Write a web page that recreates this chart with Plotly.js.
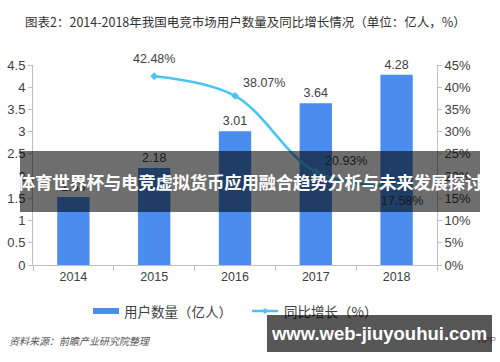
<!DOCTYPE html>
<html><head><meta charset="utf-8">
<script src="https://cdn.plot.ly/plotly-3.0.1.min.js"></script>
<style>
html,body{margin:0;padding:0;background:#fff;}
#wrap{position:relative;width:500px;height:362px;overflow:hidden;}
#chart{width:500px;height:362px;}
.ov{position:absolute;color:#fff;font-weight:bold;display:flex;align-items:center;justify-content:center;white-space:nowrap;}
</style></head>
<body><div id="wrap"><div id="chart"></div>
<div class="ov" style="left:20px;top:151px;width:460px;height:61px;font-size:17.5px;letter-spacing:-0.3px;background:rgba(0,0,0,0.57);font-family:'Noto Sans CJK SC','Noto Sans',sans-serif;">体育世界杯与电竞虚拟货币应用融合趋势分析与未来发展探讨</div>
<div class="ov" style="left:267px;top:315px;width:225px;height:37px;font-size:18.5px;font-family:'Liberation Sans',Arial,sans-serif;background:rgba(0,0,0,0.66);">www.web-jiuyouhui.com</div>
</div>
<script>
const years = ['2014','2015','2016','2017','2018'];
const users = [1.53, 2.18, 3.01, 3.64, 4.28];
const growthYears = ['2015','2016','2017','2018'];
const growth = [42.48, 38.07, 20.93, 17.58];
const growthLabels = ['42.48%','38.07%','20.93%','17.58%'];
const seriesNames = ['用户数量（亿人）','同比增长（%）'];
const labelShift = [[0,17],[29,13],[30,11],[5,-14]];

const barColor = '#4a8def', lineColor = '#48c5f3';
const xIdx = years.map((_,i)=>i);
const gIdx = growthYears.map(y=>years.indexOf(y));
const font = 'Liberation Sans, Noto Sans CJK SC, sans-serif';
const M = {l:33, r:63, t:65, b:97}, W = 500, H = 362;
const pw = W - M.l - M.r, ph = H - M.t - M.b;
const px = x => (x - M.l) / pw, py = y => (H - M.b - y) / ph;

const traces = [
  {type:'bar', x:xIdx, y:users, width:0.4, name:seriesNames[0], marker:{color:barColor},
   text:users.map(v=>v.toFixed(2)), textposition:'outside', cliponaxis:false,
   textfont:{size:12.5,color:'#404040',family:font}},
  {type:'scatter', mode:'lines+markers', x:gIdx, y:growth, yaxis:'y2', name:seriesNames[1],
   line:{color:lineColor, width:2.5, shape:'spline', smoothing:1},
   marker:{symbol:'diamond', size:6, color:lineColor}}
];
const annotations = gIdx.map((xi,i)=>({
  x:xi, y:growth[i], xref:'x', yref:'y2', text:growthLabels[i], showarrow:false,
  xshift:labelShift[i][0], yshift:labelShift[i][1], font:{size:12.5,color:'#404040',family:font}
}));
// legend texts
annotations.push({xref:'paper', yref:'paper', x:px(122), y:py(311), xanchor:'left', yanchor:'middle',
  text:seriesNames[0], showarrow:false, font:{size:13.5,color:'#404040',family:'Noto Sans CJK SC'}});
annotations.push({xref:'paper', yref:'paper', x:px(282), y:py(311), xanchor:'left', yanchor:'middle',
  text:seriesNames[1], showarrow:false, font:{size:13.5,color:'#404040',family:'Noto Sans CJK SC'}});
annotations.push({xref:'paper', yref:'paper', x:px(7), y:py(340), xanchor:'left', yanchor:'middle',
  text:'<i>资料来源：前瞻产业研究院整理</i>', showarrow:false, font:{size:10,color:'#555',family:'Noto Sans CJK SC'}});
annotations.push({xref:'paper', yref:'paper', x:px(498), y:py(340), xanchor:'right', yanchor:'middle',
  text:'APP', showarrow:false, font:{size:9,color:'#777',family:font}});

const shapes = [
  {type:'rect', xref:'paper', yref:'paper', x0:px(93), x1:px(119), y0:py(308), y1:py(314), fillcolor:barColor, line:{width:0}},
  {type:'line', xref:'paper', yref:'paper', x0:px(252), x1:px(278), y0:py(311), y1:py(311), line:{color:lineColor, width:2.5}},
  {type:'path', xref:'paper', yref:'paper',
   path:`M ${px(265)} ${py(308)} L ${px(268)} ${py(311)} L ${px(265)} ${py(314)} L ${px(262)} ${py(311)} Z`,
   fillcolor:lineColor, line:{width:0}}
];

const bounds = years.concat(['']).map((_,i)=>i-0.5);
const layout = {
  width:W, height:H, margin:M,
  paper_bgcolor:'#fff', plot_bgcolor:'#fff',
  font:{family:font, color:'#404040', size:12.5},
  title:{text:'图表2：2014-2018年我国电竞市场用户数量及同比增长情况（单位：亿人，%）',
    x:25/W, xanchor:'left', xref:'container', y:1-23/H, yanchor:'middle', yref:'container',
    font:{size:12.5, color:'#333', family:'Noto Sans CJK SC'}},
  showlegend:false,
  xaxis:{range:[-0.5,4.5], tickmode:'array', tickvals:xIdx, ticktext:years, ticks:'',
    showline:true, linecolor:'#bfbfbf', showgrid:false, zeroline:false, tickfont:{size:12.5},
    minor:{tickmode:'array', tickvals:bounds, ticks:'outside', ticklen:5, tickcolor:'#bfbfbf', showgrid:false}},
  yaxis:{range:[0,4.5], dtick:0.5, showline:true, linecolor:'#bfbfbf', ticks:'outside', tickcolor:'#bfbfbf',
    ticklen:4, showgrid:false, zeroline:false, tickfont:{size:13}},
  yaxis2:{range:[0,45], dtick:5, overlaying:'y', side:'right', showline:true, linecolor:'#bfbfbf',
    ticks:'outside', tickcolor:'#bfbfbf', ticklen:4, ticksuffix:'%', showgrid:false, zeroline:false, tickfont:{size:13}},
  annotations:annotations, shapes:shapes
};
Plotly.newPlot('chart', traces, layout, {displayModeBar:false, staticPlot:true});
</script></body></html>
